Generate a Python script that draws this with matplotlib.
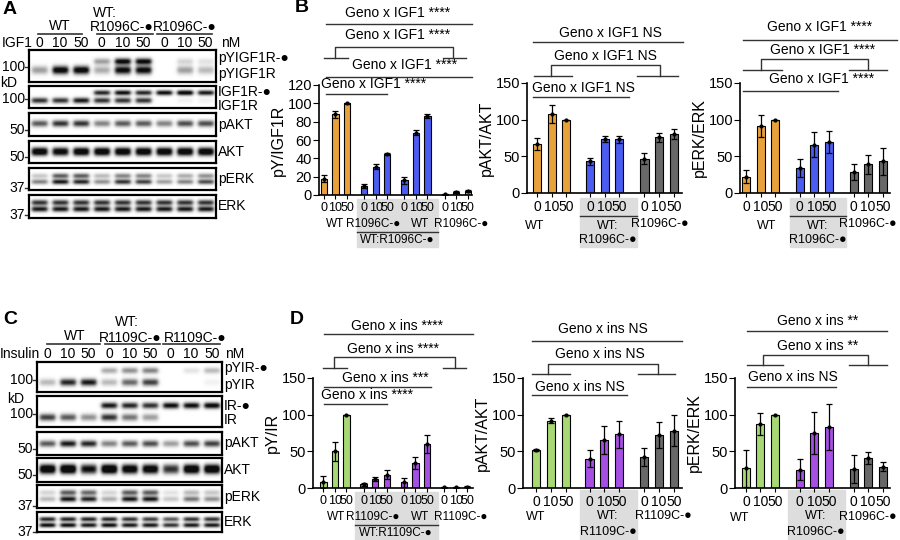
import numpy as np
import matplotlib.pyplot as plt
from matplotlib.patches import Rectangle

plt.rcParams['font.family'] = ['Liberation Sans', 'DejaVu Sans']
plt.rcParams['font.size'] = 10

W, H = 900, 540
fig = plt.figure(figsize=(9, 5.4), dpi=100)

# overlay in pixel coordinates for labels, brackets, boxes
ov = fig.add_axes([0, 0, 1, 1])
ov.set_xlim(0, W)
ov.set_ylim(H, 0)
ov.axis('off')
ov.set_zorder(0)

ORANGE = '#E9A23B'
BLUE = '#4B5CF0'
GRAY = '#686868'
GREEN = '#A7D873'
PURPLE = '#A650E3'

doses = ['0', '10', '50']

# ---- blot band intensities (9 lanes) ----
igf_pY_up = [0, 0, 0, .35, .95, .95, 0, .15, .1]
igf_pY_lo = [.35, 1, 1, .3, .95, .95, 0, .35, .25]
igf_R_up = [0, 0, 0, .8, .9, .8, .9, 1, .85]
igf_R_lo = [.75, .75, .85, .75, .75, .75, 0, .05, .05]
igf_pAKT = [.6, .75, .75, .45, .6, .6, .45, .65, .65]
igf_AKT = [.7, .65, .7, .7, .7, .7, .7, .7, .7]
igf_pERK_up = [.2, .6, .6, .25, .45, .45, .2, .3, .4]
igf_pERK_lo = [.45, .85, .8, .4, .75, .7, .35, .45, .65]
igf_ERK_up = [.75] * 9
igf_ERK_lo = [.85] * 9

ins_pY_up = [0, 0, 0, .3, .4, .45, 0, .1, .25]
ins_pY_lo = [.25, .8, .85, .25, .55, .7, 0, 0, .05]
ins_R_up = [0, 0, 0, .85, .8, .75, .9, .9, .95]
ins_R_lo = [.7, .6, .4, .75, .5, .35, 0, 0, 0]
ins_pAKT = [.6, .85, .8, .45, .6, .65, .35, .65, .7]
ins_AKT = [.75, .8, .6, .8, .7, .7, .5, .75, .75]
ins_pERK_up = [.15, .6, .55, .15, .6, .6, .1, .25, .2]
ins_pERK_lo = [.25, .85, .8, .3, .85, .85, .2, .5, .4]
ins_ERK_up = [.8, .8, .8, .8, .75, .7, .6, .75, .75]
ins_ERK_lo = [.9, .9, .85, .9, .85, .85, .75, .85, .85]

# ---- bar data ----
B1_vals = [[18, 88, 100], [10, 31, 45], [16, 68, 86], [1, 3, 4]]
B1_err = [[4, 4, 0.5], [2, 3, 1], [4, 3, 2], [0.5, 1, 1]]
B2_vals = [[67, 108, 100], [43, 74, 73], [47, 76, 80]]
B2_err = [[8, 12, 0], [5, 4, 5], [7, 6, 7]]
B3_vals = [[22, 92, 100], [34, 66, 70], [29, 39, 43]]
B3_err = [[9, 15, 0], [12, 17, 15], [11, 13, 19]]
D1_vals = [[8, 50, 100], [5, 12, 18], [8, 34, 60], [1, 1, 2]]
D1_err = [[8, 13, 0], [2, 3, 6], [6, 8, 12], [0.5, 0.5, 1]]
D2_vals = [[52, 92, 100], [40, 65, 73], [42, 72, 78]]
D2_err = [[1, 3, 0], [12, 19, 18], [12, 18, 21]]
D3_vals = [[27, 87, 100], [25, 75, 83], [26, 41, 29]]
D3_err = [[25, 15, 0], [14, 29, 31], [19, 8, 6]]

GL = 9  # group label font size


def t(x, y, s, **kw):
    kw.setdefault('ha', 'center')
    kw.setdefault('va', 'center')
    ov.text(x, y, s, **kw)


def g(x, y, s, fs=GL, **kw):
    t(x, y, s, fontsize=fs, **kw)


def hl(x0, x1, y, lw=1.0):
    ov.plot([x0, x1], [y, y], color='#333333', lw=lw)


def blot(x0, x1, y0, y1, bands):
    ax = fig.add_axes([x0 / W, 1 - y1 / H, (x1 - x0) / W, (y1 - y0) / H])
    ax.set_zorder(2)
    nh, nw = 60, 270
    img = np.zeros((nh, nw))
    xs = np.arange(nw)
    ys = np.arange(nh)
    for yf, sig, inten in bands:
        py = np.exp(-0.5 * ((ys - yf * nh) / (sig * nh)) ** 2)
        for i, v in enumerate(inten):
            c = (i + 0.5) * nw / 9
            px = 1 / (1 + np.exp((np.abs(xs - c) - 0.37 * nw / 9) / 1.5))
            img += v * np.outer(py, px)
    img = np.clip(img * 1.15, 0, 1)
    ax.imshow(1 - 0.95 * img, cmap='gray', vmin=0, vmax=1, aspect='auto',
              interpolation='bilinear')
    ax.set_xticks([])
    ax.set_yticks([])
    for s in ax.spines.values():
        s.set_linewidth(1.6)


# ---------------- Panel A ----------------
t(10, 10, 'A', fontsize=14, fontweight='bold')
t(105, 13, 'WT:')
t(60, 26, 'WT')
t(122, 27, 'R1096C-●')
t(185, 27, 'R1096C-●')
for a, b in [(38, 82), (97, 153), (157, 212)]:
    hl(a, b, 34, 1.2)
t(2, 43, 'IGF1', ha='left')
laneA = np.linspace(29, 216, 10)[:-1] + 187 / 18
for i, x in enumerate(laneA):
    t(x, 43, doses[i % 3])
t(221, 43, 'nM', ha='left')
blot(29, 216, 50, 82, [(0.35, .07, igf_pY_up), (0.62, .09, igf_pY_lo)])
blot(29, 216, 86, 108, [(0.3, .08, igf_R_up), (0.65, .09, igf_R_lo)])
blot(29, 216, 113, 136, [(0.45, .1, igf_pAKT)])
blot(29, 216, 141, 163, [(0.4, .1, igf_AKT), (0.55, .1, igf_AKT)])
blot(29, 216, 168, 190, [(0.35, .08, igf_pERK_up), (0.62, .08, igf_pERK_lo)])
blot(29, 216, 195, 218, [(0.35, .08, igf_ERK_up), (0.62, .08, igf_ERK_lo)])
for y, s in [(67, '100'), (99, '100'), (130, '50'), (157, '50'), (188, '37'), (215, '37')]:
    t(25, y, s, ha='right')
    hl(25, 29, y)
t(0, 83, 'kD', ha='left')
for y, s in [(58, 'pYIGF1R-●'), (74, 'pYIGF1R'), (92, 'IGF1R-●'), (106, 'IGF1R'),
             (125, 'pAKT'), (152, 'AKT'), (179, 'pERK'), (206, 'ERK')]:
    t(218, y, s, ha='left')

# ---------------- Panel C ----------------
t(10, 320, 'C', fontsize=14, fontweight='bold')
t(127, 322, 'WT:')
t(75, 336, 'WT')
t(130, 338, 'R1109C-●')
t(195, 338, 'R1109C-●')
for a, b in [(47, 100), (105, 160), (163, 220)]:
    hl(a, b, 344, 1.2)
t(0, 354, 'Insulin', ha='left')
laneC = np.linspace(37, 222, 10)[:-1] + 185 / 18
for i, x in enumerate(laneC):
    t(x, 354, doses[i % 3])
t(225, 354, 'nM', ha='left')
blot(37, 222, 362, 392, [(0.3, .07, ins_pY_up), (0.68, .08, ins_pY_lo)])
blot(37, 222, 396, 427, [(0.3, .07, ins_R_up), (0.68, .08, ins_R_lo)])
blot(37, 222, 432, 455, [(0.5, .1, ins_pAKT)])
blot(37, 222, 458, 482, [(0.4, .1, ins_AKT), (0.55, .1, ins_AKT)])
blot(37, 222, 485, 508, [(0.35, .08, ins_pERK_up), (0.62, .08, ins_pERK_lo)])
blot(37, 222, 512, 532, [(0.35, .08, ins_ERK_up), (0.65, .08, ins_ERK_lo)])
for y, s in [(380, '100'), (414, '100'), (449, '50'), (475, '50'), (506, '37'), (532, '37')]:
    t(33, y, s, ha='right')
    hl(33, 37, y)
t(7, 399, 'kD', ha='left')
for y, s in [(368, 'pYIR-●'), (385, 'pYIR'), (406, 'IR-●'), (420, 'IR'),
             (443, 'pAKT'), (470, 'AKT'), (497, 'pERK'), (522, 'ERK')]:
    t(224, y, s, ha='left')


# ---------------- bar panels ----------------
def bars(x0, x1, ytop, ybot, ymax, yticks, pos, vals, errs, colors, ylabel, xfs=10):
    ax = fig.add_axes([x0 / W, 1 - ybot / H, (x1 - x0) / W, (ybot - ytop) / H])
    ax.set_zorder(1)
    ax.patch.set_alpha(0)
    for gi, (v, e) in enumerate(zip(vals, errs)):
        p = pos[gi]
        ax.bar(p, v, width=0.55, color=colors[gi], edgecolor='black', lw=0.8, zorder=2)
        ax.errorbar(p, v, yerr=e, fmt='none', ecolor='black', elinewidth=0.9,
                    capsize=2.5, capthick=0.9, zorder=3)
        ax.scatter(p, v, s=4, color='black', zorder=4)
    ax.set_ylim(0, ymax)
    ax.set_yticks(yticks)
    allp = np.concatenate(pos)
    ax.set_xticks(allp, doses * len(vals))
    ax.tick_params(axis='x', length=3, pad=2, labelsize=xfs)
    ax.tick_params(axis='y', length=4, pad=1, labelsize=10.5)
    ax.spines['top'].set_visible(False)
    ax.spines['right'].set_visible(False)
    for s in ['left', 'bottom']:
        ax.spines[s].set_linewidth(1.2)
    ax.set_ylabel(ylabel, fontsize=11.5, labelpad=1)
    return ax


pos4 = [np.array([0, 1, 2]), np.array([3.5, 4.5, 5.5]),
        np.array([7, 8, 9]), np.array([10.5, 11.5, 12.5])]
axB1 = bars(319, 472, 85, 195, 120, range(0, 121, 20), pos4, B1_vals, B1_err,
            [ORANGE, BLUE, BLUE, ORANGE], 'pY/IGF1R', xfs=9)
axB1.set_xlim(-0.43, 12.87)
axD1 = bars(313, 473, 378, 488, 150, [0, 50, 100, 150], pos4, D1_vals, D1_err,
            [GREEN, PURPLE, PURPLE, GRAY], 'pY/IR', xfs=9)
axD1.set_xlim(-0.9, 13.0)

pos3a = [np.array([0, 1, 2]), np.array([3.6, 4.6, 5.6]), np.array([7.3, 8.3, 9.3])]
pos3b = [np.array([0, 1, 2]), np.array([3.7, 4.7, 5.7]), np.array([7.4, 8.4, 9.4])]
axB2 = bars(527, 682, 83, 193, 150, [0, 50, 100, 150], pos3a, B2_vals, B2_err,
            [ORANGE, BLUE, GRAY], 'pAKT/AKT')
axB2.set_xlim(-0.68, 9.85)
axB3 = bars(740, 890, 83, 193, 150, [0, 50, 100, 150], pos3b, B3_vals, B3_err,
            [ORANGE, BLUE, GRAY], 'pERK/ERK')
axB3.set_xlim(-0.41, 9.9)
axD2 = bars(523, 682, 378, 488, 150, [0, 50, 100, 150], pos3a, D2_vals, D2_err,
            [GREEN, PURPLE, GRAY], 'pAKT/AKT')
axD2.set_xlim(-0.9, 9.85)
axD3 = bars(735, 890, 378, 488, 150, [0, 50, 100, 150], pos3b, D3_vals, D3_err,
            [GREEN, PURPLE, GRAY], 'pERK/ERK')
axD3.set_xlim(-0.75, 9.9)

# panel letters
t(302, 8, 'B', fontsize=14, fontweight='bold')
t(297, 320, 'D', fontsize=14, fontweight='bold')


def bracket(xl, xr, ytop, ydrop, l1, r1):
    ov.plot([xl, xl, xr, xr], [ydrop, ytop, ytop, ydrop], color='#333333', lw=1.0)
    hl(l1[0], l1[1], ydrop)
    hl(r1[0], r1[1], ydrop)


# B1 annotations
t(398, 13, 'Geno x IGF1 ****'); hl(326, 472, 24)
t(398, 35, 'Geno x IGF1 ****'); bracket(335, 453, 47, 58, (324, 348), (443, 466))
t(405, 65, 'Geno x IGF1 ****'); hl(326, 472, 77)
t(374, 84, 'Geno x IGF1 ****'); hl(326, 387, 94)
# B1 group labels
ov.add_patch(Rectangle((357, 199), 81, 48, color='#DDDDDD', zorder=0))
g(335, 224, 'WT', 8.5); g(373, 224, 'R1096C-●', 8.5); g(420, 224, 'WT', 8.5)
hl(357, 438, 232); g(397, 240, 'WT:R1096C-●', 8.5)
g(461, 224, 'R1096C-●', 8.5)

# B2
t(610, 33, 'Geno x IGF1 NS'); hl(533, 683, 42)
t(605, 56, 'Geno x IGF1 NS'); bracket(551, 660, 65, 76, (534, 572), (637, 678))
t(583, 88, 'Geno x IGF1 NS'); hl(533, 629, 97)
ov.add_patch(Rectangle((580, 198), 57, 49, color='#DDDDDD', zorder=0))
g(535, 226, 'WT'); hl(580, 637, 216)
g(608, 226, 'WT:'); g(608, 240, 'R1096C-●')
g(660, 224, 'R1096C-●')

# B3
t(820, 27, 'Geno x IGF1 ****'); hl(743, 897, 40)
t(823, 50, 'Geno x IGF1 ****'); bracket(761, 868, 59, 70, (743, 782), (849, 887))
t(822, 79, 'Geno x IGF1 ****'); hl(743, 838, 91)
ov.add_patch(Rectangle((790, 198), 56, 49, color='#DDDDDD', zorder=0))
g(767, 226, 'WT'); hl(790, 846, 216)
g(818, 226, 'WT:'); g(818, 240, 'R1096C-●')
g(868, 224, 'R1096C-●')

# D1
t(397, 326, 'Geno x ins ****'); hl(324, 473, 334)
t(393, 349, 'Geno x ins ****'); bracket(334, 455, 357, 368, (323, 347), (443, 466))
t(385, 378, 'Geno x ins ***'); hl(324, 431, 387)
t(367, 395, 'Geno x ins ****'); hl(324, 387, 404)
ov.add_patch(Rectangle((355, 492), 83, 48, color='#DDDDDD', zorder=0))
g(336, 517, 'WT', 8.5); g(373, 517, 'R1109C-●', 8.5); g(420, 517, 'WT', 8.5)
hl(355, 438, 525); g(396, 533, 'WT:R1109C-●', 8.5)
g(461, 517, 'R1109C-●', 8.5)

# D2
t(603, 329, 'Geno x ins NS'); hl(532, 682, 341)
t(600, 354, 'Geno x ins NS'); bracket(548, 658, 364, 374, (532, 570), (638, 675))
t(580, 387, 'Geno x ins NS'); hl(532, 627, 395)
ov.add_patch(Rectangle((580, 490), 57, 50, color='#DDDDDD', zorder=0))
g(536, 517, 'WT')
g(608, 516, 'WT:'); g(608, 532, 'R1109C-●')
g(663, 516, 'R1109C-●')

# D3
t(818, 321, 'Geno x ins **'); hl(747, 887, 331)
t(818, 346, 'Geno x ins **'); bracket(763, 868, 355, 365, (747, 783), (849, 887))
t(793, 377, 'Geno x ins NS'); hl(747, 836, 387)
ov.add_patch(Rectangle((788, 490), 57, 50, color='#DDDDDD', zorder=0))
g(740, 518, 'WT')
g(816, 516, 'WT:'); g(816, 532, 'R1096C-●')
g(868, 517, 'R1096C-●')

fig.savefig('out.png', dpi=100)
